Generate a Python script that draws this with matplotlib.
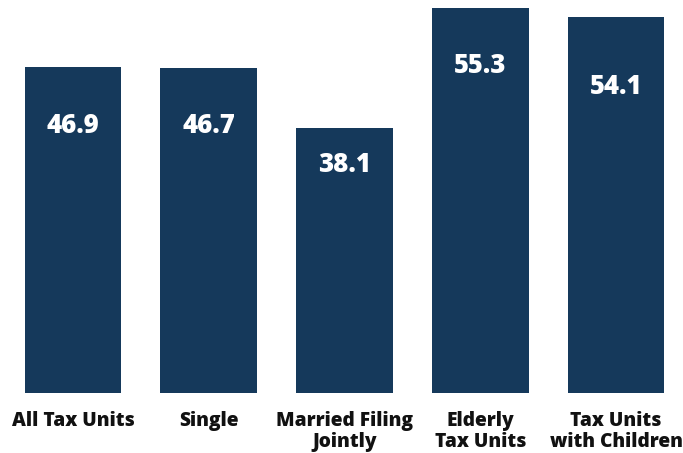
import matplotlib
matplotlib.use("Agg")
import matplotlib.pyplot as plt

categories = ["All Tax Units", "Single", "Married Filing\nJointly", "Elderly\nTax Units", "Tax Units\nwith Children"]
values = [46.9, 46.7, 38.1, 55.3, 54.1]
value_labels = ["46.9", "46.7", "38.1", "55.3", "54.1"]

# layout: how far below each bar top its value label sits (pixels)
label_drop_px = [59, 58, 37, 58, 70]

BAR_COLOR = "#15395b"
FONT = ["Open Sans", "DejaVu Sans"]

fig = plt.figure(figsize=(6.83, 4.53), dpi=100)
ax = fig.add_axes([24.5 / 683, 60 / 453, 640 / 683, 393 / 453])
x = list(range(len(categories)))
ax.bar(x, values, width=0.714, color=BAR_COLOR)
ax.set_xlim(-0.357, len(categories) - 1 + 0.357)
ax.set_ylim(0, 56.5)

for xi, v, lab, d in zip(x, values, value_labels, label_drop_px):
    ax.annotate(lab, xy=(xi, v), xytext=(0, -d), textcoords="offset pixels",
                ha="center", va="center", color="white", fontsize=18.5,
                fontweight=800, family=FONT)

ax.set_xticks(x)
ax.set_xticklabels(categories, fontsize=13.8, fontweight=800,
                   family=FONT, linespacing=1.08, va="top", color="#111111")
ax.tick_params(axis="x", length=0, pad=13)
ax.set_yticks([])
for s in ax.spines.values():
    s.set_visible(False)

fig.savefig("out.png", dpi=100)
